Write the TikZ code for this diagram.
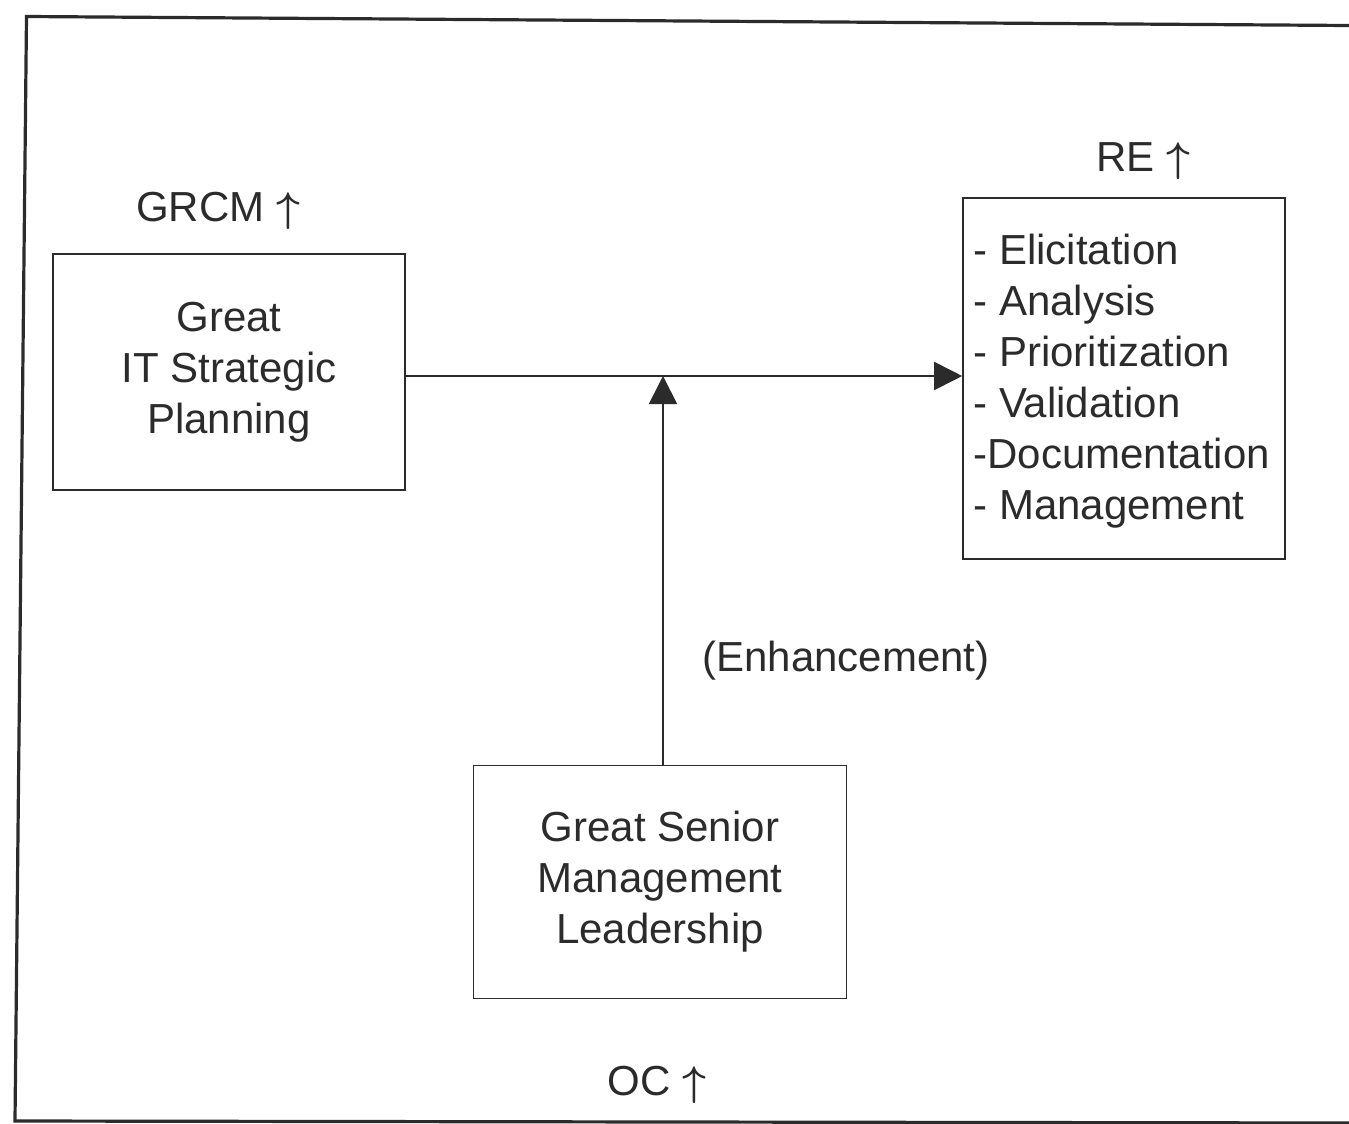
\documentclass[tikz,border=0pt]{standalone}
\usepackage{fontspec}
\setmainfont{Liberation Sans}
\usetikzlibrary{arrows.meta}
\definecolor{ink}{HTML}{2B2B2B}
% tall upward arrow that follows each indicator
\newcommand{\rising}{\ {\boldmath$\uparrow$}}
\begin{document}
\begin{tikzpicture}[x=0.5pt,y=-0.5pt,
  every node/.style={font=\fontsize{21}{25.5}\selectfont, text=ink},
  box/.style={draw=ink, line width=0.8pt, inner sep=0pt, align=center},
  link/.style={draw=ink, line width=0.9pt, -{Triangle[length=14pt,width=14pt]}},
  frame/.style={draw=ink, line width=1.6pt, line join=miter}]
\useasboundingbox (0,0) rectangle (1349,1124);

% outer frame
\draw[frame] (1349,25.5) -- (26.5,16.5) -- (15,1121) -- (1349,1123);

% boxes
\node[box, minimum width=176pt, minimum height=118pt] (plan) at (229,372)
  {Great\\IT Strategic\\Planning};
\node[box, minimum width=161pt, minimum height=180.5pt] (re) at (1124,378.5) {};
\node[anchor=west, align=left, inner sep=0pt] (list) at (973,381)
  {- Elicitation\\- Analysis\\- Prioritization\\- Validation\\-Documentation\\- Management};
\node[box, minimum width=186.5pt, minimum height=116.5pt] (lead) at (660,882)
  {Great Senior\\Management\\Leadership};

% labels
\node[anchor=base] (grcm) at (218,221) {GRCM\rising};
\node[anchor=base] (relab) at (1143,171) {RE\rising};
\node[anchor=base] (oc) at (657,1095) {OC\rising};
\node[anchor=base] (enh) at (846,671) {(Enhancement)};

% connectors
\coordinate (join) at (663,376);
\draw[link] (plan.east |- join) -- (re.west |- join);
\draw[link] (lead.north -| join) -- (join);
\end{tikzpicture}
\end{document}
